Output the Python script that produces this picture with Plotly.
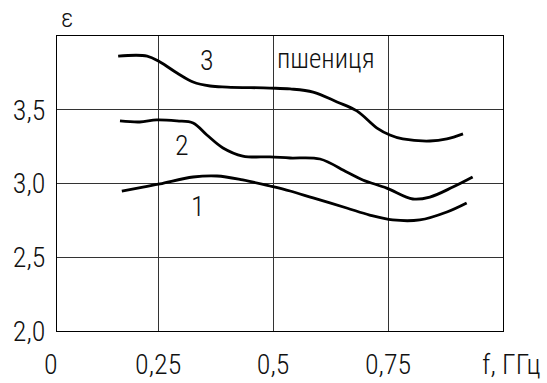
import plotly.graph_objects as go

# Frequency f, GHz and permittivity ε for three wheat samples
f1 = [0.171, 0.217, 0.254, 0.326, 0.378, 0.434, 0.493, 0.537, 0.587, 0.660, 0.710, 0.760, 0.819, 0.878, 0.921]
eps1 = [2.949, 2.976, 2.997, 3.044, 3.051, 3.024, 2.983, 2.949, 2.902, 2.834, 2.786, 2.753, 2.753, 2.807, 2.868]

f2 = [0.167, 0.210, 0.247, 0.291, 0.326, 0.356, 0.391, 0.434, 0.493, 0.537, 0.602, 0.660, 0.695, 0.747, 0.804, 0.841, 0.891, 0.934]
eps2 = [3.424, 3.417, 3.431, 3.424, 3.410, 3.329, 3.241, 3.186, 3.180, 3.173, 3.166, 3.078, 3.024, 2.969, 2.895, 2.908, 2.976, 3.044]

f3 = [0.163, 0.226, 0.254, 0.291, 0.326, 0.363, 0.400, 0.493, 0.537, 0.587, 0.639, 0.682, 0.726, 0.754, 0.782, 0.841, 0.878, 0.913]
eps3 = [3.864, 3.864, 3.824, 3.749, 3.688, 3.661, 3.654, 3.647, 3.641, 3.620, 3.553, 3.492, 3.376, 3.329, 3.302, 3.288, 3.302, 3.336]

x_ticks = [0.25, 0.5, 0.75]
x_labels = ["0,25", "0,5", "0,75"]
y_ticks = [2.0, 2.5, 3.0, 3.5]
y_labels = ["2,0", "2,5", "3,0", "3,5"]

curve_names = ["1", "2", "3"]
curve_label_pos = [(0.337, 2.841), (0.302, 3.261), (0.356, 3.837)]

FONT = "Roboto Condensed, DejaVu Sans Condensed, sans-serif"
INK = "#111111"
FS = 28

fig = go.Figure()
for fx, fy in [(f1, eps1), (f2, eps2), (f3, eps3)]:
    fig.add_trace(go.Scatter(
        x=fx, y=fy, mode="lines",
        line=dict(color="black", width=2.8, shape="spline", smoothing=1.0),
        showlegend=False, hoverinfo="skip",
    ))

def txt(size):
    return dict(family=FONT, size=size, color=INK, weight=300)

annotations = []
for name, (ax, ay) in zip(curve_names, curve_label_pos):
    annotations.append(dict(x=ax, y=ay, xref="x", yref="y", text=name, showarrow=False,
                            font=txt(FS), xanchor="center", yanchor="middle"))
annotations += [
    dict(x=0.615, y=3.844, xref="x", yref="y", text="пшениця", showarrow=False,
         font=txt(27), xanchor="center", yanchor="middle"),
    dict(x=0.022, y=1.061, xref="paper", yref="paper", text="ε", showarrow=False,
         font=txt(26), xanchor="center", yanchor="middle"),
    dict(x=-0.013, y=-0.112, xref="paper", yref="paper", text="0", showarrow=False,
         font=txt(FS), xanchor="center", yanchor="middle"),
    dict(x=1.087, y=-0.112, xref="paper", yref="paper", text="f, ГГц", showarrow=False,
         font=txt(FS), xanchor="right", yanchor="middle"),
]

axis_common = dict(
    showline=True, linecolor="black", linewidth=1, mirror=True,
    showgrid=True, gridcolor="#333333", gridwidth=1,
    zeroline=False, ticks="", automargin=False,
    tickfont=txt(FS),
)

fig.update_layout(
    width=547, height=383,
    margin=dict(l=57, r=44, t=36, b=52),
    paper_bgcolor="white", plot_bgcolor="white",
    xaxis=dict(range=[0.03, 1.0], tickvals=x_ticks, ticktext=x_labels,
               ticklabelstandoff=8, **axis_common),
    yaxis=dict(range=[2.0, 4.0], tickvals=y_ticks, ticktext=y_labels,
               ticklabelstandoff=5, **axis_common),
    annotations=annotations,
)

fig.write_html("out.html")
